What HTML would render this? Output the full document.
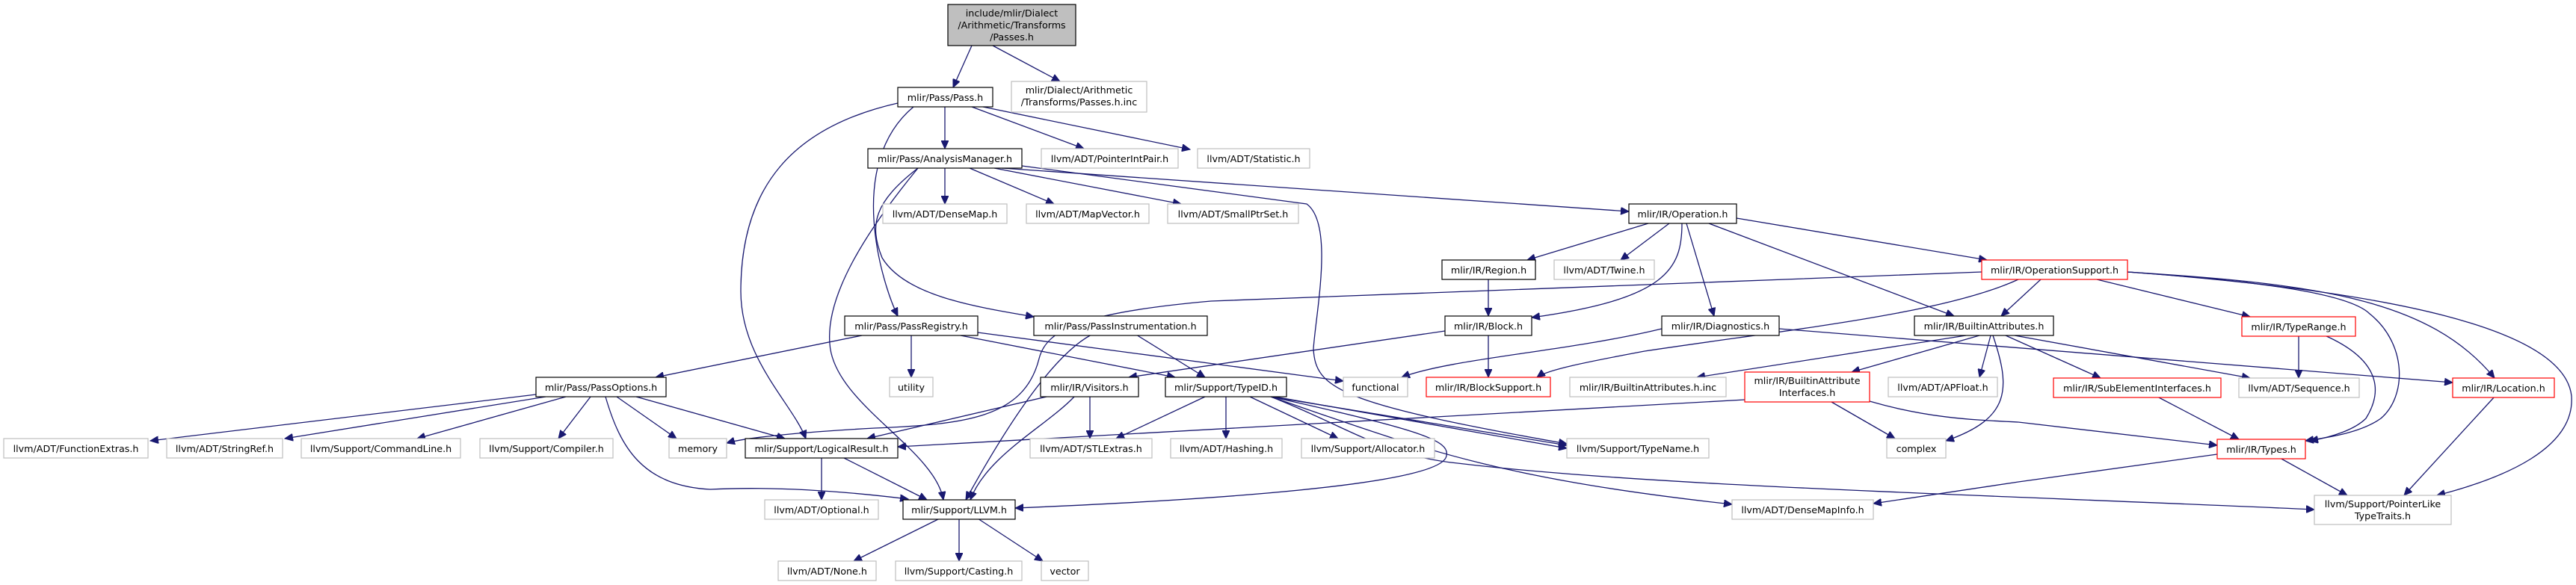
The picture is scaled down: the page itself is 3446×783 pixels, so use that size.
<!DOCTYPE html>
<html><head><meta charset="utf-8"><style>
html,body{margin:0;padding:0;background:#fff}
svg{display:block}
text{font-family:"DejaVu Sans","Liberation Sans",sans-serif;font-size:12.7px;fill:#000;text-anchor:middle}
.b{fill:#fff;stroke:#000;stroke-width:1.2}
.g{fill:#fff;stroke:#bfbfbf;stroke-width:1.2}
.r{fill:#fff;stroke:#ff0000;stroke-width:1.2}
.e{fill:none;stroke:#191970;stroke-width:1.3}
</style></head><body>
<svg width="3446" height="783" viewBox="0 0 3446 783" xmlns="http://www.w3.org/2000/svg">
<defs><marker id="a" markerWidth="12" markerHeight="10" refX="11" refY="5" orient="auto" markerUnits="userSpaceOnUse"><path d="M0,0 L11,5 L0,10 z" fill="#191970" stroke="#191970"/></marker></defs>
<g class="e" marker-end="url(#a)">
<path d="M1300,61 L1275,117"/>
<path d="M1328,61 L1418,109"/>
<path d="M1264,143 L1264,199"/>
<path d="M1300,143 L1450,199"/>
<path d="M1315,143 L1592,200"/>
<path d="M1222,143 C1130,220 1180,380 1201,423"/>
<path d="M1201,138 C1060,170 991,250 991,390 C991,480 1060,540 1078,587"/>
<path d="M1264,225 L1264,273"/>
<path d="M1297,225 L1410,273"/>
<path d="M1330,225 L1580,273"/>
<path d="M1340,225 L2179,283"/>
<path d="M1228,225 C1150,320 1105,400 1110,460 C1115,540 1250,600 1262,669"/>
<path d="M1228,225 C1170,270 1162,300 1180,345 C1210,395 1300,410 1383,424"/>
<path d="M1367,222 L1748,273 C1785,300 1760,420 1757,467 C1760,520 1790,540 2096,594"/>
<path d="M2205,299 L2043,348"/>
<path d="M2233,299 L2168,348"/>
<path d="M2250,299 C2250,360 2230,400 2049,425"/>
<path d="M2256,299 L2293,423"/>
<path d="M2286,299 L2614,423"/>
<path d="M2323,292 L2658,348"/>
<path d="M1991,374 L1991,423"/>
<path d="M2651,364 L1620,403 C1450,418 1400,440 1390,480 C1370,560 1290,568 1170,573 C1080,578 1000,585 972,593"/>
<path d="M2700,374 C2600,420 2400,440 2200,470 C2120,485 2070,495 2056,505"/>
<path d="M2730,374 L2677,423"/>
<path d="M2805,374 L3010,424"/>
<path d="M2846,364 C3000,375 3140,390 3170,420 C3220,460 3220,530 3185,560 C3160,578 3120,585 3084,590"/>
<path d="M2846,364 C3100,380 3250,400 3337,506"/>
<path d="M2846,364 C3200,390 3430,440 3440,530 C3445,600 3350,640 3260,663"/>
<path d="M3075,449 L3075,506"/>
<path d="M3110,449 C3180,480 3190,520 3165,560 C3150,575 3120,585 3090,590"/>
<path d="M2630,449 L2270,505"/>
<path d="M2648,449 L2477,498"/>
<path d="M2663,449 L2648,505"/>
<path d="M2683,449 L2810,506"/>
<path d="M2695,449 L3010,506"/>
<path d="M2666,449 C2690,520 2690,560 2603,590"/>
<path d="M2223,440 C2100,470 1940,480 1875,505"/>
<path d="M2380,440 L3281,512"/>
<path d="M1933,443 L1510,505"/>
<path d="M1991,449 L1991,505"/>
<path d="M1153,449 L877,505"/>
<path d="M1219,449 L1219,505"/>
<path d="M1285,449 L1572,505"/>
<path d="M1308,445 L1797,510"/>
<path d="M1520,448 L1612,505"/>
<path d="M1460,448 C1400,480 1330,600 1292,669"/>
<path d="M1458,531 L1458,587"/>
<path d="M1400,531 L1160,587"/>
<path d="M1437,531 C1400,570 1320,610 1298,669"/>
<path d="M1612,531 L1493,587"/>
<path d="M1640,531 L1640,587"/>
<path d="M1672,531 L1790,587"/>
<path d="M1700,531 L2096,596"/>
<path d="M1705,531 L2096,600"/>
<path d="M1700,531 C1900,600 2000,640 2317,675"/>
<path d="M1700,531 C1800,570 1850,610 1950,620 C2200,650 2600,660 3096,682"/>
<path d="M1700,531 C1900,575 1940,590 1935,610 C1930,650 1600,670 1358,680"/>
<path d="M2334,535 L1201,598"/>
<path d="M2450,538 L2535,587"/>
<path d="M2501,537 C2580,560 2640,562 2700,565 L2966,596"/>
<path d="M2886,531 L2995,588"/>
<path d="M3337,531 L3216,663"/>
<path d="M3050,613 L3140,663"/>
<path d="M2966,608 L2700,645 L2506,674"/>
<path d="M717,528 L201,590"/>
<path d="M730,531 L381,587"/>
<path d="M757,531 L558,587"/>
<path d="M790,531 L747,587"/>
<path d="M825,531 L905,587"/>
<path d="M851,531 L1050,587"/>
<path d="M810,531 C830,600 860,650 950,655 C1050,650 1150,660 1215,668"/>
<path d="M1099,613 L1099,669"/>
<path d="M1129,613 L1240,669"/>
<path d="M1257,694 L1142,751"/>
<path d="M1283,694 L1283,751"/>
<path d="M1308,694 L1395,751"/>
</g>
<g>
<rect x="1268" y="6" width="171" height="55" fill="#bfbfbf" stroke="#000" stroke-width="1.2"/>
<text x="1353.5" y="22">include/mlir/Dialect</text><text x="1353.5" y="38">/Arithmetic/Transforms</text><text x="1353.5" y="54">/Passes.h</text>
<rect class="b" x="1201" y="117" width="127" height="26"/><text x="1264.5" y="135">mlir/Pass/Pass.h</text>
<rect class="g" x="1353" y="109" width="181" height="41"/><text x="1443.5" y="125">mlir/Dialect/Arithmetic</text><text x="1443.5" y="141">/Transforms/Passes.h.inc</text>
<rect class="b" x="1161" y="199" width="206" height="26"/><text x="1264" y="217">mlir/Pass/AnalysisManager.h</text>
<rect class="g" x="1393" y="199" width="183" height="26"/><text x="1484.5" y="217">llvm/ADT/PointerIntPair.h</text>
<rect class="g" x="1602" y="199" width="150" height="26"/><text x="1677" y="217">llvm/ADT/Statistic.h</text>
<rect class="g" x="1181" y="273" width="166" height="26"/><text x="1264" y="291">llvm/ADT/DenseMap.h</text>
<rect class="g" x="1373" y="273" width="164" height="26"/><text x="1455" y="291">llvm/ADT/MapVector.h</text>
<rect class="g" x="1562" y="273" width="175" height="26"/><text x="1649.5" y="291">llvm/ADT/SmallPtrSet.h</text>
<rect class="b" x="2179" y="273" width="144" height="26"/><text x="2251" y="291">mlir/IR/Operation.h</text>
<rect class="b" x="1929" y="348" width="125" height="26"/><text x="1991.5" y="366">mlir/IR/Region.h</text>
<rect class="g" x="2079" y="348" width="134" height="26"/><text x="2146" y="366">llvm/ADT/Twine.h</text>
<rect class="r" x="2651" y="348" width="195" height="26"/><text x="2748.5" y="366">mlir/IR/OperationSupport.h</text>
<rect class="b" x="1130" y="423" width="178" height="26"/><text x="1219" y="441">mlir/Pass/PassRegistry.h</text>
<rect class="b" x="1383" y="423" width="232" height="26"/><text x="1499" y="441">mlir/Pass/PassInstrumentation.h</text>
<rect class="b" x="1933" y="423" width="116" height="26"/><text x="1991" y="441">mlir/IR/Block.h</text>
<rect class="b" x="2223" y="423" width="157" height="26"/><text x="2301.5" y="441">mlir/IR/Diagnostics.h</text>
<rect class="b" x="2561" y="423" width="186" height="26"/><text x="2654" y="441">mlir/IR/BuiltinAttributes.h</text>
<rect class="r" x="2999" y="424" width="152" height="26"/><text x="3075" y="442">mlir/IR/TypeRange.h</text>
<rect class="b" x="717" y="505" width="174" height="26"/><text x="804" y="523">mlir/Pass/PassOptions.h</text>
<rect class="g" x="1190" y="505" width="58" height="26"/><text x="1219" y="523">utility</text>
<rect class="b" x="1392" y="505" width="131" height="26"/><text x="1457.5" y="523">mlir/IR/Visitors.h</text>
<rect class="b" x="1559" y="505" width="162" height="26"/><text x="1640" y="523">mlir/Support/TypeID.h</text>
<rect class="g" x="1797" y="505" width="86" height="26"/><text x="1840" y="523">functional</text>
<rect class="r" x="1908" y="505" width="166" height="26"/><text x="1991" y="523">mlir/IR/BlockSupport.h</text>
<rect class="g" x="2100" y="505" width="209" height="26"/><text x="2204.5" y="523">mlir/IR/BuiltinAttributes.h.inc</text>
<rect class="r" x="2334" y="498" width="167" height="40"/><text x="2417.5" y="514">mlir/IR/BuiltinAttribute</text><text x="2417.5" y="530">Interfaces.h</text>
<rect class="g" x="2526" y="505" width="146" height="26"/><text x="2599" y="523">llvm/ADT/APFloat.h</text>
<rect class="r" x="2747" y="506" width="224" height="26"/><text x="2859" y="524">mlir/IR/SubElementInterfaces.h</text>
<rect class="g" x="2995" y="506" width="161" height="26"/><text x="3075.5" y="524">llvm/ADT/Sequence.h</text>
<rect class="r" x="3281" y="506" width="136" height="26"/><text x="3349" y="524">mlir/IR/Location.h</text>
<rect class="g" x="5" y="587" width="193" height="26"/><text x="101.5" y="605">llvm/ADT/FunctionExtras.h</text>
<rect class="g" x="223" y="587" width="155" height="26"/><text x="300.5" y="605">llvm/ADT/StringRef.h</text>
<rect class="g" x="403" y="587" width="213" height="26"/><text x="509.5" y="605">llvm/Support/CommandLine.h</text>
<rect class="g" x="642" y="587" width="178" height="26"/><text x="731" y="605">llvm/Support/Compiler.h</text>
<rect class="g" x="895" y="587" width="77" height="26"/><text x="933.5" y="605">memory</text>
<rect class="b" x="997" y="587" width="204" height="26"/><text x="1099" y="605">mlir/Support/LogicalResult.h</text>
<rect class="g" x="1378" y="587" width="163" height="26"/><text x="1459.5" y="605">llvm/ADT/STLExtras.h</text>
<rect class="g" x="1566" y="587" width="149" height="26"/><text x="1640.5" y="605">llvm/ADT/Hashing.h</text>
<rect class="g" x="1741" y="587" width="178" height="26"/><text x="1830" y="605">llvm/Support/Allocator.h</text>
<rect class="g" x="2096" y="587" width="190" height="26"/><text x="2191" y="605">llvm/Support/TypeName.h</text>
<rect class="g" x="2524" y="587" width="79" height="26"/><text x="2563.5" y="605">complex</text>
<rect class="r" x="2966" y="588" width="118" height="26"/><text x="3025" y="606">mlir/IR/Types.h</text>
<rect class="g" x="1023" y="669" width="152" height="26"/><text x="1099" y="687">llvm/ADT/Optional.h</text>
<rect class="b" x="1208" y="669" width="150" height="26"/><text x="1283" y="687">mlir/Support/LLVM.h</text>
<rect class="g" x="2317" y="669" width="189" height="26"/><text x="2411.5" y="687">llvm/ADT/DenseMapInfo.h</text>
<rect class="g" x="3096" y="663" width="183" height="39"/><text x="3187.5" y="679">llvm/Support/PointerLike</text><text x="3187.5" y="695">TypeTraits.h</text>
<rect class="g" x="1041" y="751" width="131" height="26"/><text x="1106.5" y="769">llvm/ADT/None.h</text>
<rect class="g" x="1198" y="751" width="169" height="26"/><text x="1282.5" y="769">llvm/Support/Casting.h</text>
<rect class="g" x="1393" y="751" width="63" height="26"/><text x="1424.5" y="769">vector</text>
</g>
</svg>
</body></html>
